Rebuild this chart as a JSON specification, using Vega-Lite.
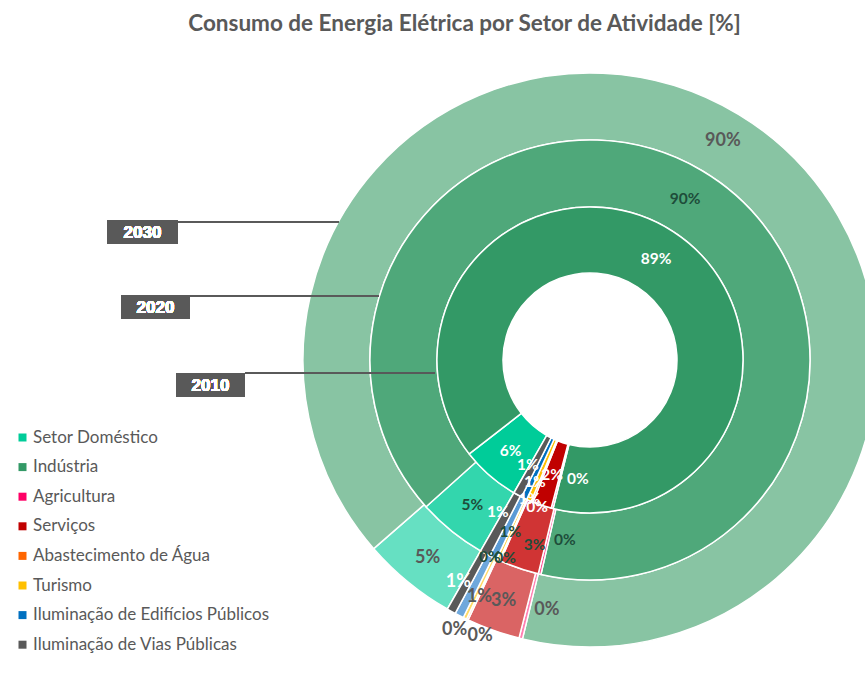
{
  "$schema": "https://vega.github.io/schema/vega-lite/v6.json",
  "width": 865,
  "height": 638,
  "autosize": "none",
  "padding": {"left": 0, "top": 45, "right": 0, "bottom": 0},
  "background": "white",
  "title": {
    "text": "Consumo de Energia Elétrica por Setor de Atividade [%]",
    "font": "Lato",
    "fontSize": 22.5,
    "fontWeight": "bold",
    "color": "#595959",
    "anchor": "middle",
    "dx": 32,
    "offset": 10
  },
  "config": {"view": {"stroke": null}},
  "data": {
    "values": [
      {"year": "2010", "sector": "Setor Doméstico", "value": 6.2},
      {"year": "2010", "sector": "Indústria", "value": 89.4},
      {"year": "2010", "sector": "Agricultura", "value": 0.2},
      {"year": "2010", "sector": "Serviços", "value": 2.0},
      {"year": "2010", "sector": "Abastecimento de Água", "value": 0.2},
      {"year": "2010", "sector": "Turismo", "value": 0.5},
      {"year": "2010", "sector": "Iluminação de Edifícios Públicos", "value": 0.6},
      {"year": "2010", "sector": "Iluminação de Vias Públicas", "value": 0.9},
      {"year": "2020", "sector": "Setor Doméstico", "value": 5.1},
      {"year": "2020", "sector": "Indústria", "value": 90.2},
      {"year": "2020", "sector": "Agricultura", "value": 0.2},
      {"year": "2020", "sector": "Serviços", "value": 2.9},
      {"year": "2020", "sector": "Abastecimento de Água", "value": 0.1},
      {"year": "2020", "sector": "Turismo", "value": 0.2},
      {"year": "2020", "sector": "Iluminação de Edifícios Públicos", "value": 0.55},
      {"year": "2020", "sector": "Iluminação de Vias Públicas", "value": 0.75},
      {"year": "2030", "sector": "Setor Doméstico", "value": 5.3},
      {"year": "2030", "sector": "Indústria", "value": 90.2},
      {"year": "2030", "sector": "Agricultura", "value": 0.2},
      {"year": "2030", "sector": "Serviços", "value": 3.0},
      {"year": "2030", "sector": "Abastecimento de Água", "value": 0.1},
      {"year": "2030", "sector": "Turismo", "value": 0.2},
      {"year": "2030", "sector": "Iluminação de Edifícios Públicos", "value": 0.5},
      {"year": "2030", "sector": "Iluminação de Vias Públicas", "value": 0.5}
    ]
  },
  "transform": [
    {"calculate": "indexof(['Setor Doméstico','Indústria','Agricultura','Serviços','Abastecimento de Água','Turismo','Iluminação de Edifícios Públicos','Iluminação de Vias Públicas'], datum.sector)", "as": "ord"},
    {"calculate": "round(datum.value) + '%'", "as": "label"},
    {"stack": "value", "groupby": ["year"], "sort": [{"field": "ord", "order": "ascending"}], "offset": "normalize", "as": ["t0", "t1"]},
    {"calculate": "(datum.t0 + datum.t1) / 2", "as": "tmid"}
  ],
  "resolve": {"scale": {"color": "independent"}},
  "encoding": {
    "x": {"datum": 0, "type": "quantitative", "scale": {"domain": [-590, 275], "nice": false, "zero": false}, "axis": null},
    "y": {"datum": 0, "type": "quantitative", "scale": {"domain": [-323, 315], "nice": false, "zero": false}, "axis": null}
  },
  "layer": [
    {
      "transform": [{"filter": "datum.year === '2030'"}],
      "mark": {"type": "arc", "radius": 287, "radius2": 220, "stroke": "white", "strokeWidth": 1.5},
      "encoding": {
        "theta": {"field": "t0", "type": "quantitative", "stack": null, "scale": {"domain": [0, 1], "range": [3.662, 9.945], "zero": false, "nice": false}},
        "theta2": {"field": "t1"},
        "color": {"field": "sector", "type": "nominal", "legend": null,
          "scale": {"domain": ["Setor Doméstico","Indústria","Agricultura","Serviços","Abastecimento de Água","Turismo","Iluminação de Edifícios Públicos","Iluminação de Vias Públicas"],
                    "range": ["#66E0C2","#88C4A3","#FF80B2","#DA6464","#FFA366","#FFD966","#6FA8DC","#595959"]}}
      }
    },
    {
      "transform": [{"filter": "datum.year === '2020'"}],
      "mark": {"type": "arc", "radius": 220, "radius2": 153, "stroke": "white", "strokeWidth": 1.5},
      "encoding": {
        "theta": {"field": "t0", "type": "quantitative", "stack": null},
        "theta2": {"field": "t1"},
        "color": {"field": "sector", "type": "nominal", "legend": null,
          "scale": {"domain": ["Setor Doméstico","Indústria","Agricultura","Serviços","Abastecimento de Água","Turismo","Iluminação de Edifícios Públicos","Iluminação de Vias Públicas"],
                    "range": ["#33D6AD","#4FA87A","#FF4D94","#D03434","#FF8533","#FFD040","#5B9BD5","#595959"]}}
      }
    },
    {
      "transform": [{"filter": "datum.year === '2010'"}],
      "mark": {"type": "arc", "radius": 153, "radius2": 87, "stroke": "white", "strokeWidth": 1.5},
      "encoding": {
        "theta": {"field": "t0", "type": "quantitative", "stack": null},
        "theta2": {"field": "t1"},
        "color": {"field": "sector", "type": "nominal",
          "scale": {"domain": ["Setor Doméstico","Indústria","Agricultura","Serviços","Abastecimento de Água","Turismo","Iluminação de Edifícios Públicos","Iluminação de Vias Públicas"],
                    "range": ["#00CC99","#339966","#FF0066","#C00000","#FF6600","#FFC000","#0070C0","#595959"]},
          "legend": {"orient": "none", "legendX": 14, "legendY": 384, "title": null, "symbolType": "square", "symbolSize": 64,
                     "symbolStrokeWidth": 0, "symbolOpacity": 1, "labelFont": "Lato", "labelFontSize": 17, "labelColor": "#595959",
                     "rowPadding": 11.6, "labelOffset": 2, "labelLimit": 400}}
      }
    },
    {
      "encoding": {
        "theta": {"field": "tmid", "type": "quantitative", "stack": null},
        "text": {"field": "label"}
      },
      "layer": [
        {"transform": [{"filter": "datum.year === '2030' && indexof(['Setor Doméstico','Indústria','Serviços'], datum.sector) >= 0"}],
         "mark": {"type": "text", "radius": 256, "font": "Lato", "fontSize": 18, "fontWeight": "bold", "color": "#595959"}},
        {"transform": [{"filter": "datum.year === '2030' && datum.sector === 'Agricultura'"}],
         "mark": {"type": "text", "radius": 254, "thetaOffset": -0.073, "font": "Lato", "fontSize": 18, "fontWeight": "bold", "color": "#595959"}},
        {"transform": [{"filter": "datum.year === '2030' && datum.sector === 'Iluminação de Edifícios Públicos'"}],
         "mark": {"type": "text", "radius": 262, "thetaOffset": -0.037, "font": "Lato", "fontSize": 18, "fontWeight": "bold", "color": "#595959"}},
        {"transform": [{"filter": "datum.year === '2030' && datum.sector === 'Iluminação de Vias Públicas'"}],
         "mark": {"type": "text", "radius": 258, "thetaOffset": 0.031, "font": "Lato", "fontSize": 18, "fontWeight": "bold", "color": "white"}},
        {"transform": [{"filter": "datum.year === '2030' && datum.sector === 'Abastecimento de Água'"}],
         "mark": {"type": "text", "radius": 302, "thetaOffset": 0.023, "font": "Lato", "fontSize": 18, "fontWeight": "bold", "color": "#595959"}},
        {"transform": [{"filter": "datum.year === '2030' && datum.sector === 'Turismo'"}],
         "mark": {"type": "text", "radius": 297, "thetaOffset": -0.072, "font": "Lato", "fontSize": 18, "fontWeight": "bold", "color": "#595959"}},

        {"transform": [{"filter": "datum.year === '2020' && indexof(['Setor Doméstico','Indústria'], datum.sector) >= 0"}],
         "mark": {"type": "text", "radius": 187, "font": "Lato", "fontSize": 15.5, "fontWeight": "bold", "color": "#1E4D3A"}},
        {"transform": [{"filter": "datum.year === '2020' && datum.sector === 'Serviços'"}],
         "mark": {"type": "text", "radius": 193, "thetaOffset": -0.038, "font": "Lato", "fontSize": 15.5, "fontWeight": "bold", "color": "#1E4D3A"}},
        {"transform": [{"filter": "datum.year === '2020' && datum.sector === 'Agricultura'"}],
         "mark": {"type": "text", "radius": 182, "thetaOffset": -0.093, "font": "Lato", "fontSize": 15.5, "fontWeight": "bold", "color": "#1E4D3A"}},
        {"transform": [{"filter": "datum.year === '2020' && datum.sector === 'Iluminação de Edifícios Públicos'"}],
         "mark": {"type": "text", "radius": 190, "thetaOffset": -0.023, "font": "Lato", "fontSize": 15.5, "fontWeight": "bold", "color": "#1E4D3A"}},
        {"transform": [{"filter": "datum.year === '2020' && datum.sector === 'Iluminação de Vias Públicas'"}],
         "mark": {"type": "text", "radius": 178, "thetaOffset": 0.048, "font": "Lato", "fontSize": 15.5, "fontWeight": "bold", "color": "white"}},
        {"transform": [{"filter": "datum.year === '2020' && datum.sector === 'Abastecimento de Água'"}],
         "mark": {"type": "text", "radius": 221, "thetaOffset": 0.047, "font": "Lato", "fontSize": 15.5, "fontWeight": "bold", "color": "#1E4D3A"}},
        {"transform": [{"filter": "datum.year === '2020' && datum.sector === 'Turismo'"}],
         "mark": {"type": "text", "radius": 215, "thetaOffset": -0.026, "font": "Lato", "fontSize": 15.5, "fontWeight": "bold", "color": "#1E4D3A"}},

        {"transform": [{"filter": "datum.year === '2010' && indexof(['Setor Doméstico','Indústria','Serviços'], datum.sector) >= 0"}],
         "mark": {"type": "text", "radius": 121, "font": "Lato", "fontSize": 15.5, "fontWeight": "bold", "color": "white"}},
        {"transform": [{"filter": "datum.year === '2010' && datum.sector === 'Agricultura'"}],
         "mark": {"type": "text", "radius": 120, "thetaOffset": -0.148, "font": "Lato", "fontSize": 15.5, "fontWeight": "bold", "color": "white"}},
        {"transform": [{"filter": "datum.year === '2010' && datum.sector === 'Iluminação de Edifícios Públicos'"}],
         "mark": {"type": "text", "radius": 134, "thetaOffset": -0.021, "font": "Lato", "fontSize": 15.5, "fontWeight": "bold", "color": "white"}},
        {"transform": [{"filter": "datum.year === '2010' && datum.sector === 'Iluminação de Vias Públicas'"}],
         "mark": {"type": "text", "radius": 122, "thetaOffset": 0.042, "font": "Lato", "fontSize": 15.5, "fontWeight": "bold", "color": "white"}},
        {"transform": [{"filter": "datum.year === '2010' && datum.sector === 'Turismo'"}],
         "mark": {"type": "text", "radius": 152, "font": "Lato", "fontSize": 15.5, "fontWeight": "bold", "color": "white"}},
        {"transform": [{"filter": "datum.year === '2010' && datum.sector === 'Abastecimento de Água'"}],
         "mark": {"type": "text", "radius": 156, "thetaOffset": -0.042, "font": "Lato", "fontSize": 15.5, "fontWeight": "bold", "color": "white"}}
      ]
    },
    {
      "mark": {"type": "rule", "color": "#595959", "strokeWidth": 1},
      "encoding": {"x": {"datum": -412, "type": "quantitative"}, "x2": {"datum": -251}, "y": {"datum": 138.3, "type": "quantitative"}}
    },
    {
      "mark": {"type": "rule", "color": "#595959", "strokeWidth": 1},
      "encoding": {"x": {"datum": -400, "type": "quantitative"}, "x2": {"datum": -211}, "y": {"datum": 64.3, "type": "quantitative"}}
    },
    {
      "mark": {"type": "rule", "color": "#595959", "strokeWidth": 1},
      "encoding": {"x": {"datum": -345, "type": "quantitative"}, "x2": {"datum": -155}, "y": {"datum": -13.3, "type": "quantitative"}}
    },
    {
      "mark": {"type": "rect", "color": "#595959"},
      "encoding": {"x": {"datum": -483, "type": "quantitative"}, "x2": {"datum": -412}, "y": {"datum": 140, "type": "quantitative"}, "y2": {"datum": 116}}
    },
    {
      "mark": {"type": "rect", "color": "#595959"},
      "encoding": {"x": {"datum": -469, "type": "quantitative"}, "x2": {"datum": -400}, "y": {"datum": 65, "type": "quantitative"}, "y2": {"datum": 41}}
    },
    {
      "mark": {"type": "rect", "color": "#595959"},
      "encoding": {"x": {"datum": -414, "type": "quantitative"}, "x2": {"datum": -345}, "y": {"datum": -13, "type": "quantitative"}, "y2": {"datum": -37}}
    },
    {
      "mark": {"type": "text", "color": "white", "font": "Liberation Sans", "fontSize": 17, "fontWeight": "bold", "baseline": "middle", "align": "center"},
      "encoding": {"x": {"datum": -447.5, "type": "quantitative"}, "y": {"datum": 127, "type": "quantitative"}, "text": {"value": "2030"}}
    },
    {
      "mark": {"type": "text", "color": "white", "font": "Liberation Sans", "fontSize": 17, "fontWeight": "bold", "baseline": "middle", "align": "center"},
      "encoding": {"x": {"datum": -434.5, "type": "quantitative"}, "y": {"datum": 52, "type": "quantitative"}, "text": {"value": "2020"}}
    },
    {
      "mark": {"type": "text", "color": "white", "font": "Liberation Sans", "fontSize": 17, "fontWeight": "bold", "baseline": "middle", "align": "center"},
      "encoding": {"x": {"datum": -379.5, "type": "quantitative"}, "y": {"datum": -26, "type": "quantitative"}, "text": {"value": "2010"}}
    }
  ]
}
